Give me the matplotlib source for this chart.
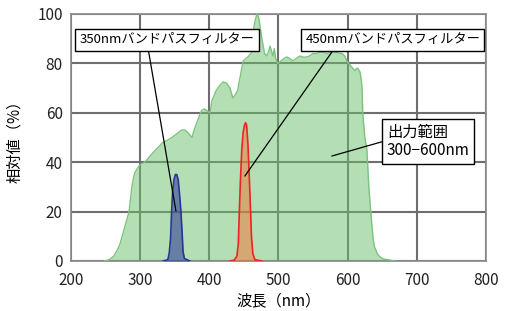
import numpy as np
import matplotlib
matplotlib.use('Agg')
import matplotlib.pyplot as plt

plt.rcParams['font.family'] = ['Noto Sans CJK JP', 'DejaVu Sans']

# light source output spectrum (nm, %)
lamp_wl = [248, 255, 262, 268, 271, 275, 278, 281, 284, 286, 288, 290, 292, 296, 300,
           307, 313, 319, 326, 333, 340, 346, 353, 360, 365, 369, 372, 375, 378, 382,
           386, 389, 393, 396, 401, 404, 410, 415, 420, 425, 430, 434, 437, 441, 445,
           449, 456, 460, 462, 463, 466, 469, 471, 473, 476, 478, 480, 483, 486, 488,
           490, 492, 494, 496, 499, 504, 508, 512, 516, 521, 526, 531, 536, 541, 545,
           550, 555, 560, 564, 570, 575, 579, 585, 592, 596, 599, 603, 606, 611, 613,
           615, 618, 620, 621, 622, 625, 628, 631, 635, 637, 639, 643, 647, 652, 661, 668]
lamp_val = [0, 0.5, 2, 5, 7, 11, 14, 17, 20, 25, 30, 33, 35.5, 37.5, 39,
            40, 42, 44, 46, 48, 49, 50, 51.5, 53, 53, 52, 51, 50, 53, 56,
            59, 61, 61.5, 61, 60, 65, 69, 71, 72.5, 72, 70, 66, 67, 69, 75,
            81, 82.6, 84, 85, 92, 97, 100, 99, 96, 90, 87, 84, 83, 85, 87,
            85, 83, 86, 82, 80, 81, 82, 82.6, 82, 81, 82, 83, 82.5, 82.6, 83,
            84, 84, 84.5, 84.6, 84, 84.5, 84.6, 84.3, 84, 83, 81, 79.5, 78.5, 77, 78,
            78, 76.5, 73, 70, 60, 50, 45, 29, 15, 9, 5.7, 3, 1.6, 0.8, 0.4, 0]

# 350nm band-pass filter output
bp350_wl = [333, 340, 342, 344, 345.5, 347, 349, 351, 353, 355, 357, 359, 361, 362, 364, 372]
bp350_val = [0, 0.5, 3, 9, 20, 28, 33, 35, 35, 33, 27, 20, 10, 4, 1, 0]

# 450nm band-pass filter output
bp450_wl = [430, 436, 440, 442, 443.5, 445, 447, 449, 451, 452.5, 454, 456, 458, 459.5, 461, 463, 466, 476]
bp450_val = [0, 0.3, 2, 7, 20, 32, 45, 52, 55, 56, 55, 47, 33, 22, 10, 3, 0.5, 0]

xticks = [200, 300, 400, 500, 600, 700, 800]
yticks = [0, 20, 40, 60, 80, 100]

fig = plt.figure(figsize=(5.13, 3.11), dpi=100)
ax = fig.add_axes([0.1384, 0.1608, 0.8086, 0.7942])

ax.fill_between(lamp_wl, lamp_val, color=(0.42, 0.75, 0.42), alpha=0.5, lw=0, zorder=2)
ax.plot(lamp_wl, lamp_val, color='#7cc47e', lw=1, zorder=3)
ax.fill_between(bp350_wl, bp350_val, color=(0.2, 0.25, 0.6), alpha=0.6, lw=0, zorder=4)
ax.plot(bp350_wl, bp350_val, color='#2a3596', lw=1.2, zorder=5)
ax.fill_between(bp450_wl, bp450_val, color=(0.95, 0.45, 0.2), alpha=0.5, lw=0, zorder=4)
ax.plot(bp450_wl, bp450_val, color='#ee2222', lw=1.2, zorder=5)

ax.set_xlim(200, 800)
ax.set_ylim(0, 100)
ax.set_xticks(xticks)
ax.set_yticks(yticks)
ax.grid(True, color='#6e6e6e', lw=1.5, zorder=1)
ax.set_axisbelow(True)
for s in ax.spines.values():
    s.set_color('#8a8a8a')
    s.set_linewidth(1.2)
ax.tick_params(length=0, labelsize=11, colors='#222222')
ax.tick_params(axis='x', pad=8)
ax.tick_params(axis='y', pad=6)

ax.set_xlabel('波長（nm）', fontsize=11, labelpad=2)
ax.set_ylabel('相対値（%）', fontsize=11, labelpad=10)

box = dict(boxstyle='square,pad=0.32', fc='white', ec='black', lw=1)
ax.annotate('350nmバンドパスフィルター', xy=(351.8, 20.2), xytext=(338.8, 89.5),
            ha='center', va='center', fontsize=9.5, bbox=box, zorder=10,
            arrowprops=dict(arrowstyle='-', color='black', lw=0.9, relpos=(0.39, 0),
                            shrinkA=0, shrinkB=0))
ax.annotate('450nmバンドパスフィルター', xy=(451.5, 34.4), xytext=(665.5, 89.5),
            ha='center', va='center', fontsize=9.5, bbox=box, zorder=10,
            arrowprops=dict(arrowstyle='-', color='black', lw=0.9, relpos=(0.174, 0),
                            shrinkA=0, shrinkB=0))
ax.annotate('出力範囲\n300−600nm', xy=(577.3, 42.5), xytext=(716.8, 48.4),
            ha='center', va='center', multialignment='left', fontsize=11,
            bbox=dict(boxstyle='square,pad=0.3', fc='white', ec='black', lw=1),
            zorder=10, linespacing=1.1,
            arrowprops=dict(arrowstyle='-', color='black', lw=0.9, relpos=(0, 0.53),
                            shrinkA=0, shrinkB=0))

fig.savefig('out.png', dpi=100)
